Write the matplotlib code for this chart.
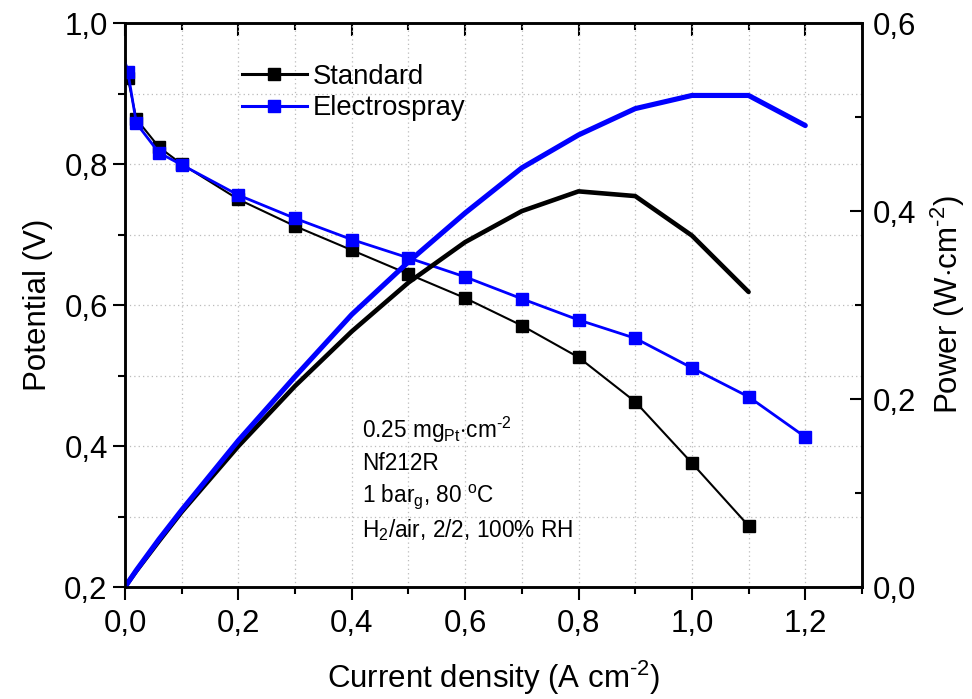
import numpy as np
import matplotlib
matplotlib.use("Agg")
import matplotlib.pyplot as plt
from matplotlib.ticker import MultipleLocator, FuncFormatter

plt.rcParams['font.family'] = ['Liberation Sans', 'DejaVu Sans']
plt.rcParams['mathtext.fontset'] = 'custom'
plt.rcParams['mathtext.rm'] = 'Liberation Sans'
plt.rcParams['mathtext.it'] = 'Liberation Sans'

# polarization data (first point = OCV, drawn without marker)
j_std = [0.0, 0.005, 0.02, 0.06, 0.1, 0.2, 0.3, 0.4, 0.5, 0.6, 0.7, 0.8, 0.9, 1.0, 1.1]
v_std = [0.952, 0.922, 0.864, 0.824, 0.800, 0.750, 0.712, 0.678, 0.644, 0.610, 0.571, 0.526, 0.463, 0.376, 0.287]
j_es = [0.0, 0.005, 0.02, 0.06, 0.1, 0.2, 0.3, 0.4, 0.5, 0.6, 0.7, 0.8, 0.9, 1.0, 1.1, 1.2]
v_es = [0.945, 0.931, 0.858, 0.816, 0.799, 0.756, 0.723, 0.693, 0.667, 0.640, 0.609, 0.579, 0.553, 0.511, 0.470, 0.413]

# power density curves
p_std = [0.0, 0.0046, 0.0173, 0.049, 0.080, 0.150, 0.214, 0.272, 0.324, 0.367, 0.400, 0.421, 0.416, 0.374, 0.314]
p_es = [0.0, 0.0047, 0.018, 0.051, 0.082, 0.156, 0.224, 0.290, 0.346, 0.398, 0.446, 0.481, 0.509, 0.523, 0.523, 0.491]

notes = [r"0.25 mg$_\mathregular{Pt}$$\cdot$cm$^\text{-2}$",
         "Nf212R",
         r"1 bar$_\mathregular{g}$, 80 $^\mathregular{o}$C",
         r"H$_\mathregular{2}$/air, 2/2, 100% RH"]

comma = FuncFormatter(lambda v, p: f"{v:.1f}".replace('.', ','))

fig = plt.figure(figsize=(9.72, 6.99), dpi=100)
ax = fig.add_axes([0.1286, 0.160, 0.7582, 0.807])
ax2 = ax.twinx()

ax.plot(j_std, v_std, '-', color='black', lw=1.5, marker='s', ms=8.5,
        markevery=slice(1, None), label='Standard', zorder=3)
ax.plot(j_es, v_es, '-', color='blue', lw=2.0, marker='s', ms=8.5,
        markevery=slice(1, None), label='Electrospray', zorder=3)

ax2.plot(j_std, p_std, '-', color='black', lw=3.3, solid_capstyle='round')
ax2.plot(j_es, p_es, '-', color='blue', lw=3.7, solid_capstyle='round')

ax.set_xlim(0, 1.3)
ax.set_ylim(0.2, 1.0)
ax2.set_ylim(0, 0.6)

ax.xaxis.set_major_locator(MultipleLocator(0.2))
ax.xaxis.set_minor_locator(MultipleLocator(0.1))
ax.yaxis.set_major_locator(MultipleLocator(0.2))
ax.yaxis.set_minor_locator(MultipleLocator(0.1))
ax2.yaxis.set_major_locator(MultipleLocator(0.2))
ax2.yaxis.set_minor_locator(MultipleLocator(0.1))
ax.xaxis.set_major_formatter(comma)
ax.yaxis.set_major_formatter(comma)
ax2.yaxis.set_major_formatter(comma)

ax.grid(True, which='both', color='#bbbbbb', linestyle=(0, (1, 2.5)), lw=0.9)
ax.set_axisbelow(True)

ax.tick_params(which='both', direction='out', width=1.5, labelsize=22.5, top=False, right=False)
ax.tick_params(which='major', length=9)
ax.tick_params(which='minor', length=5)
ax.tick_params(axis='x', pad=7)
ax2.tick_params(which='both', direction='in', width=1.5, labelsize=22.5, pad=8)
ax2.tick_params(which='major', length=9)
ax2.tick_params(which='minor', length=5)

# inward ticks on top edge
top = ax.secondary_xaxis('top')
top.xaxis.set_major_locator(MultipleLocator(0.2))
top.xaxis.set_minor_locator(MultipleLocator(0.1))
top.tick_params(which='both', direction='in', width=1.5, labeltop=False)
top.tick_params(which='major', length=9)
top.tick_params(which='minor', length=5)

for a in (ax, ax2):
    for s in a.spines.values():
        s.set_linewidth(1.8)

ax.set_xlabel("Current density (A cm$^\\text{-2}$)", fontsize=22.5, labelpad=14)
ax.set_ylabel("Potential (V)", fontsize=22.5, labelpad=8)
ax2.set_ylabel(r"Power (W$\cdot$cm$^\text{-2}$)", fontsize=22.5, rotation=90, labelpad=9)

for k, t in enumerate(notes):
    ax.text(0.418, 0.423 - 0.0475 * k, t, fontsize=16.3, va='center', ha='left', zorder=4)

leg = ax.legend(loc='upper left', bbox_to_anchor=(0.14, 0.952), frameon=False, fontsize=19.8,
                numpoints=1, handlelength=2.36, handletextpad=0.2, labelspacing=0.2, borderpad=0)
for h in leg.get_lines():
    h.set_linewidth(2.2)

fig.savefig("out.png", dpi=100)
